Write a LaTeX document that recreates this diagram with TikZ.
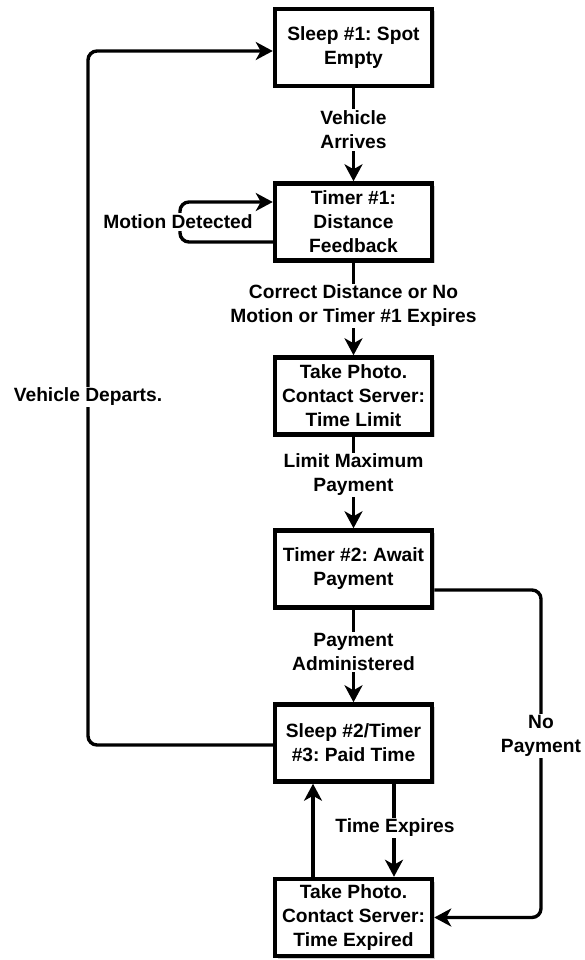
\documentclass[tikz,border=0pt]{standalone}
\usepackage{fontspec}
\setmainfont{Liberation Sans}
\usetikzlibrary{arrows.meta,shadows}
\frenchspacing
\begin{document}
\begin{tikzpicture}[x=1pt,y=-1pt,
  txt/.style={font=\fontsize{19.2}{24}\selectfont\bfseries, align=center},
  state/.style={txt, draw=black, line width=4.5pt, fill=white,
    minimum width=157pt, minimum height=77pt, inner sep=0pt,
    drop shadow={shadow xshift=2.5pt, shadow yshift=-2.5pt, fill=black!20, opacity=1}},
  flow/.style={draw=black, line width=3.4pt, rounded corners=9pt,
    -{Stealth[length=17pt,width=18pt,inset=5pt]}},
  lbl/.style={txt, fill=white, inner sep=1.5pt},
]
\useasboundingbox (0,0) rectangle (584,960);

% states
\node[state] (b1) at (353.5,47.5)  {Sleep \#1: Spot\\Empty};
\node[state] (b2) at (353.5,222)   {Timer \#1:\\Distance\\Feedback};
\node[state] (b3) at (353.5,396)   {Take Photo.\\Contact Server:\\Time Limit};
\node[state] (b4) at (353.5,569)   {Timer \#2: Await\\Payment};
\node[state] (b5) at (353.5,743)   {Sleep \#2/Timer\\\#3: Paid Time};
\node[state] (b6) at (353.5,917.5) {Take Photo.\\Contact Server:\\Time Expired};

% corner points of the routed connectors
\coordinate (dLow)  at (88,745);
\coordinate (dHigh) at (88,51);
\coordinate (nTop)  at (541,590);
\coordinate (nLow)  at (541,917.5);
\coordinate (mLow)  at (180,242);
\coordinate (mHigh) at (180,202);

% straight transitions
\draw[flow] (b1) -- (b2);
\draw[flow] (b2) -- (b3);
\draw[flow] (b3) -- (b4);
\draw[flow] (b4) -- (b5);
\draw[flow] ([xshift=40.5pt]b5.south) -- ([xshift=40.5pt]b6.north);
\draw[flow] ([xshift=-40.5pt]b6.north) -- ([xshift=-40.5pt]b5.south);

% routed transitions
\draw[flow] ([yshift=-21pt]b4.east) -- (nTop) -- (nLow) -- (b6.east);
\draw[flow] ([yshift=-2pt]b5.west) -- (dLow) -- (dHigh) -- ([yshift=-3.5pt]b1.west);
\draw[flow] ([yshift=-20pt]b2.west) -- (mLow) -- (mHigh) -- ([yshift=20pt]b2.west);

% transition labels
\node[lbl] (l1) at (353.5,130) {Vehicle\\Arrives};
\node[lbl] (l2) at (353.5,306) {Correct Distance or No\\Motion or Timer \#1 Expires};
\node[lbl] (l3) at (353.5,475) {Limit Maximum\\Payment};
\node[lbl] (l4) at (353.5,652) {Payment\\Administered};
\node[lbl] (l5) at (395,828)   {Time Expires};
\node[lbl] (l6) at (541,736)   {No\\Payment};
\node[lbl] (l7) at (88,397)    {Vehicle Departs.};
\node[lbl] (l8) at (178,222)   {Motion Detected};
\end{tikzpicture}
\end{document}
